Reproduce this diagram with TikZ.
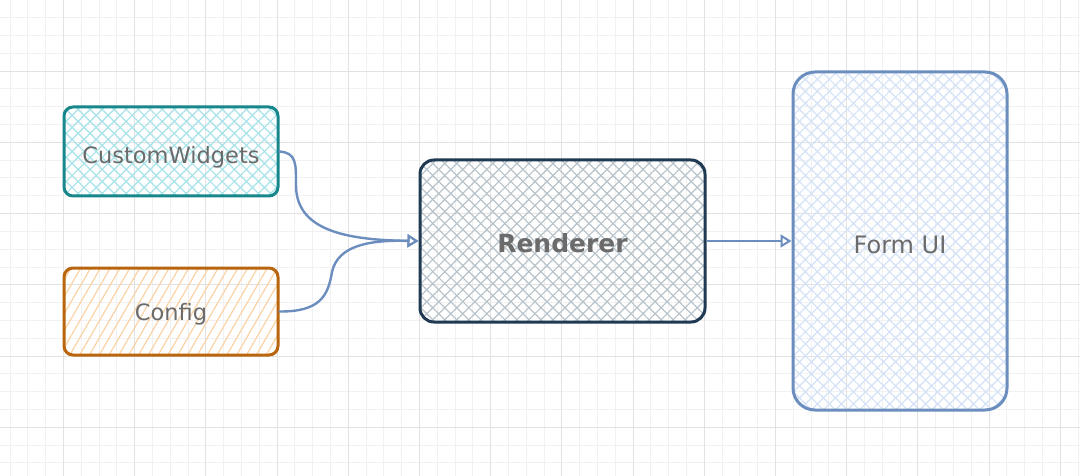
\documentclass[tikz,border=0pt]{standalone}
\usepackage{fontspec}
\setmainfont{DejaVu Sans}
\usetikzlibrary{patterns.meta,arrows.meta}
\definecolor{gridminor}{HTML}{F1F1F1}
\definecolor{gridmajor}{HTML}{E2E2E2}
\definecolor{tealS}{HTML}{17878C}
\definecolor{tealH}{HTML}{A6E3E9}
\definecolor{oranS}{HTML}{B8650E}
\definecolor{oranH}{HTML}{FBD3A6}
\definecolor{navyS}{HTML}{1F3A52}
\definecolor{navyH}{HTML}{B9C3CB}
\definecolor{blueS}{HTML}{6C8EBF}
\definecolor{blueH}{HTML}{D4E2F8}
\definecolor{txt}{HTML}{6B6B6B}
\tikzset{
  minorline/.style={gridminor,line width=1pt},
  majorline/.style={gridmajor,line width=1pt},
  boxbase/.style={rectangle,rounded corners=9pt,line width=3pt,inner sep=0pt},
  lbl/.style={text=txt,inner sep=0pt,font=\fontsize{22.5}{26}\selectfont},
  xhatch/.style={preaction={pattern={Lines[angle=45,distance=8.5pt,line width=1.2pt]},pattern color=#1},
     pattern={Lines[angle=-45,distance=8.5pt,line width=1.2pt]},pattern color=#1},
  conn/.style={blueS,line width=2.4pt,-{Triangle[open,length=11pt,width=13pt,line width=2pt]}}
}
\begin{document}
\begin{tikzpicture}[x=1pt,y=-1pt]
\useasboundingbox (0,0) rectangle (1080,476);
\fill[white] (0,0) rectangle (1080,476);
\foreach \i in {0,...,61}{\pgfmathsetmacro\xx{-7.7+17.8*\i}\draw[minorline] (\xx,0) -- (\xx,476);}
\foreach \j in {0,...,27}{\pgfmathsetmacro\yy{17.8*\j}\draw[minorline] (0,\yy) -- (1080,\yy);}
\foreach \i in {0,...,15}{\pgfmathsetmacro\xx{-7.7+71.2*\i}\draw[majorline] (\xx,0) -- (\xx,476);}
\foreach \j in {0,...,6}{\pgfmathsetmacro\yy{71.2*\j}\draw[majorline] (0,\yy) -- (1080,\yy);}

\node[boxbase,draw=tealS,xhatch=tealH,minimum width=214pt,minimum height=89pt] (cw) at (171,151.5) {};
\node[lbl] (cwt) at (171,157) {CustomWidgets};
\node[boxbase,draw=oranS,pattern={Lines[angle=60,distance=8.5pt,line width=1.2pt]},pattern color=oranH,
  minimum width=214pt,minimum height=87pt] (cfg) at (171,311.5) {};
\node[lbl] (cfgt) at (171,314) {Config};
\node[boxbase,draw=navyS,xhatch=navyH,minimum width=285pt,minimum height=162pt,rounded corners=14pt] (rend) at (562.5,241) {};
\node[lbl,font=\fontsize{25}{29}\selectfont\bfseries] (rendt) at (562.5,243) {Renderer};
\node[boxbase,draw=blueS,xhatch=blueH,minimum width=214pt,minimum height=338pt,rounded corners=22pt] (ui) at (900,241) {};
\node[lbl,font=\fontsize{24}{28}\selectfont] (uit) at (900,245) {Form UI};

\draw[conn] (cw.east) .. controls (297,152) and (296,165) .. (296,185)
   .. controls (296,228) and (340,240) .. (rend.west);
\draw[conn] (cfg.east) .. controls (320,312) and (328,296) .. (332,272)
   .. controls (338,245) and (370,240) .. (rend.west);
\draw[conn] (rend.east) -- (ui.west);
\end{tikzpicture}
\end{document}
